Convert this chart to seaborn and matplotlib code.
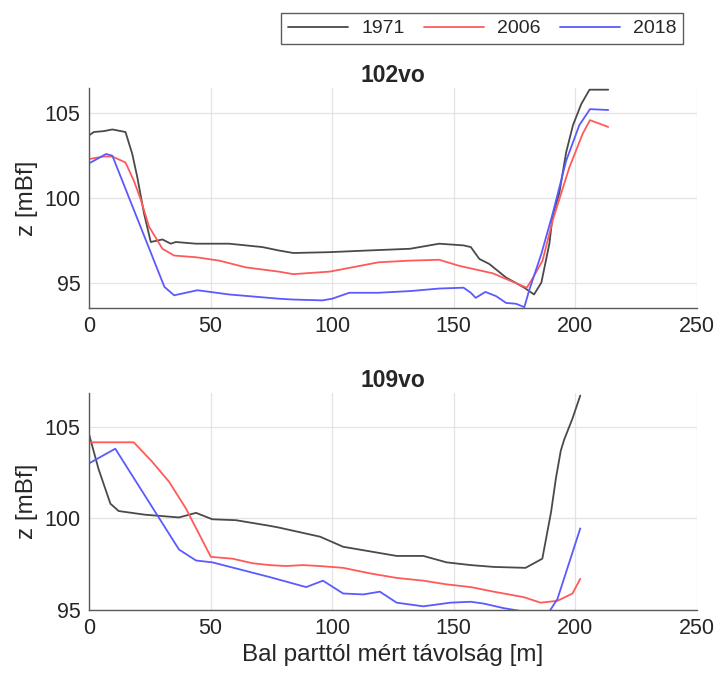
import numpy as np
import pandas as pd
import matplotlib
matplotlib.use("Agg")
import matplotlib.pyplot as plt
import seaborn as sns

years = ["1971", "2006", "2018"]
colors = ["#4a4a4a", "#ff5a5a", "#5a5aff"]

# Section 102vo
x102_1971 = [0, 2, 6, 9.6, 15, 17.8, 19.9, 22.6, 25.4, 30.2, 33.6, 35.7, 44, 57.6, 71.3, 78, 84, 99, 115, 132, 144, 154, 157, 160.5, 164.6, 171.5, 179, 183, 186, 189.3, 190.7, 193.4, 196.2, 199, 202.4, 205.8, 213.5]
z102_1971 = [103.7, 103.9, 103.95, 104.05, 103.9, 102.6, 101.2, 99.1, 97.4, 97.55, 97.3, 97.4, 97.3, 97.3, 97.1, 96.9, 96.75, 96.8, 96.9, 97.0, 97.3, 97.2, 97.1, 96.4, 96.1, 95.3, 94.7, 94.3, 95.0, 97.3, 99.0, 100.3, 102.7, 104.3, 105.55, 106.4, 106.4]
x102_2006 = [0, 6, 9.6, 15, 18.5, 21.3, 24.7, 30.2, 35, 44, 53.5, 64.5, 78, 84, 99, 119, 132, 144, 152, 166, 180, 182, 186.5, 190.7, 197.5, 203, 206, 213.5]
z102_2006 = [102.3, 102.45, 102.45, 102.1, 101.0, 99.9, 98.3, 97.0, 96.6, 96.5, 96.3, 95.9, 95.65, 95.5, 95.65, 96.2, 96.3, 96.35, 96.0, 95.55, 94.7, 95.15, 96.3, 98.7, 101.8, 103.8, 104.6, 104.2]
x102_2018 = [0, 2, 7, 9.6, 31, 35, 44.6, 57.6, 78, 84, 96, 100, 107, 119, 132, 144, 154, 157, 159, 163, 167.4, 171.5, 175.6, 179, 181, 186, 190.7, 196.2, 201.6, 206, 213.5]
z102_2018 = [102.05, 102.2, 102.6, 102.5, 94.75, 94.25, 94.55, 94.3, 94.05, 94.0, 93.95, 94.05, 94.4, 94.4, 94.5, 94.65, 94.7, 94.4, 94.1, 94.45, 94.2, 93.8, 93.75, 93.55, 94.55, 96.7, 99.1, 102.2, 104.3, 105.25, 105.2]

# Section 109vo
x109_1971 = [0, 3.9, 8.8, 12.2, 23, 37, 44, 50.7, 60.4, 74, 78, 95, 104.5, 115.5, 126.5, 137.5, 147, 157, 166.4, 179.5, 186.4, 190, 192, 194, 195.4, 198.8, 202]
z109_1971 = [104.6, 102.7, 100.8, 100.4, 100.2, 100.05, 100.3, 99.95, 99.9, 99.6, 99.5, 99.0, 98.45, 98.2, 97.95, 97.95, 97.6, 97.45, 97.35, 97.3, 97.8, 100.35, 102.2, 103.7, 104.3, 105.45, 106.7]
x109_2006 = [0, 18.4, 25.9, 32.9, 39.8, 50.1, 59, 67.3, 74.2, 81, 88, 94.8, 104.5, 115.5, 126.5, 137.5, 147, 157, 166.4, 178.8, 185.7, 192.6, 198.8, 202]
z109_2006 = [104.15, 104.15, 103.1, 102.0, 100.55, 97.9, 97.8, 97.55, 97.45, 97.4, 97.45, 97.4, 97.3, 97.0, 96.75, 96.6, 96.4, 96.25, 96.0, 95.7, 95.4, 95.5, 95.9, 96.7]
x109_2018 = [0, 10.8, 37, 44, 50.7, 74.2, 89.3, 96.2, 104.5, 112.8, 119.6, 126.5, 137.5, 148.6, 157, 162.3, 170.6, 179.5, 189.2, 192.6, 202]
z109_2018 = [103.0, 103.8, 98.3, 97.7, 97.6, 96.8, 96.25, 96.6, 95.9, 95.85, 96.0, 95.4, 95.2, 95.4, 95.45, 95.35, 95.1, 94.9, 94.9, 95.6, 99.45]

titles = ["102vo", "109vo"]
xticks = [0, 50, 100, 150, 200, 250]
yticks = [95, 100, 105]


def to_df(xs, zs):
    frames = []
    for y, xv, zv in zip(years, xs, zs):
        frames.append(pd.DataFrame({"x": xv, "z": zv, "year": y}))
    return pd.concat(frames, ignore_index=True)


df102 = to_df([x102_1971, x102_2006, x102_2018], [z102_1971, z102_2006, z102_2018])
df109 = to_df([x109_1971, x109_2006, x109_2018], [z109_1971, z109_2006, z109_2018])

sns.set_theme(style="white")
plt.rcParams["font.family"] = ["Liberation Sans", "DejaVu Sans"]

W, H = 716, 682
fig = plt.figure(figsize=(W / 100, H / 100), dpi=100)


def rect(l, t, r, b):
    return [l / W, 1 - b / H, (r - l) / W, (b - t) / H]


ax1 = fig.add_axes(rect(89, 88, 697, 308))
ax2 = fig.add_axes(rect(89, 393, 697, 610))

pal = dict(zip(years, colors))
for ax, df, title, ylim in [(ax1, df102, titles[0], (93.5, 106.5)),
                            (ax2, df109, titles[1], (95.0, 106.84))]:
    sns.lineplot(data=df, x="x", y="z", hue="year", palette=pal, sort=False,
                 estimator=None, linewidth=1.3, ax=ax, legend=False)
    ax.set_xlim(0, 250)
    ax.set_ylim(*ylim)
    ax.set_xticks(xticks)
    ax.set_yticks(yticks)
    ax.grid(True, color="#e3e3e3", linewidth=0.9)
    ax.set_axisbelow(True)
    for s in ["top", "right"]:
        ax.spines[s].set_visible(False)
    for s in ["left", "bottom"]:
        ax.spines[s].set_color("#5a5a5a")
        ax.spines[s].set_linewidth(1.0)
    ax.tick_params(direction="in", length=4, width=0.9, color="#5a5a5a",
                   labelsize=15.5, labelcolor="#262626", pad=6)
    ax.set_title(title, fontsize=16.5, fontweight="bold", pad=4)
    ax.set_ylabel("z [mBf]", fontsize=17.5, color="#262626", labelpad=5)
    ax.set_xlabel("")

ax2.set_xlabel("Bal parttól mért távolság [m]", fontsize=17.5, color="#262626", labelpad=3)

handles = [plt.Line2D([], [], color=c, linewidth=1.3) for c in colors]
leg = fig.legend(handles, years, ncol=3, loc="upper right",
                 bbox_to_anchor=(683 / W, 1 - 13 / H), borderaxespad=0,
                 frameon=True, fancybox=False, fontsize=14, handlelength=3.1,
                 columnspacing=1.0, handletextpad=0.65, borderpad=0.35)
leg.get_frame().set_edgecolor("#333333")
leg.get_frame().set_linewidth(1.0)

fig.savefig("out.png", dpi=100)
